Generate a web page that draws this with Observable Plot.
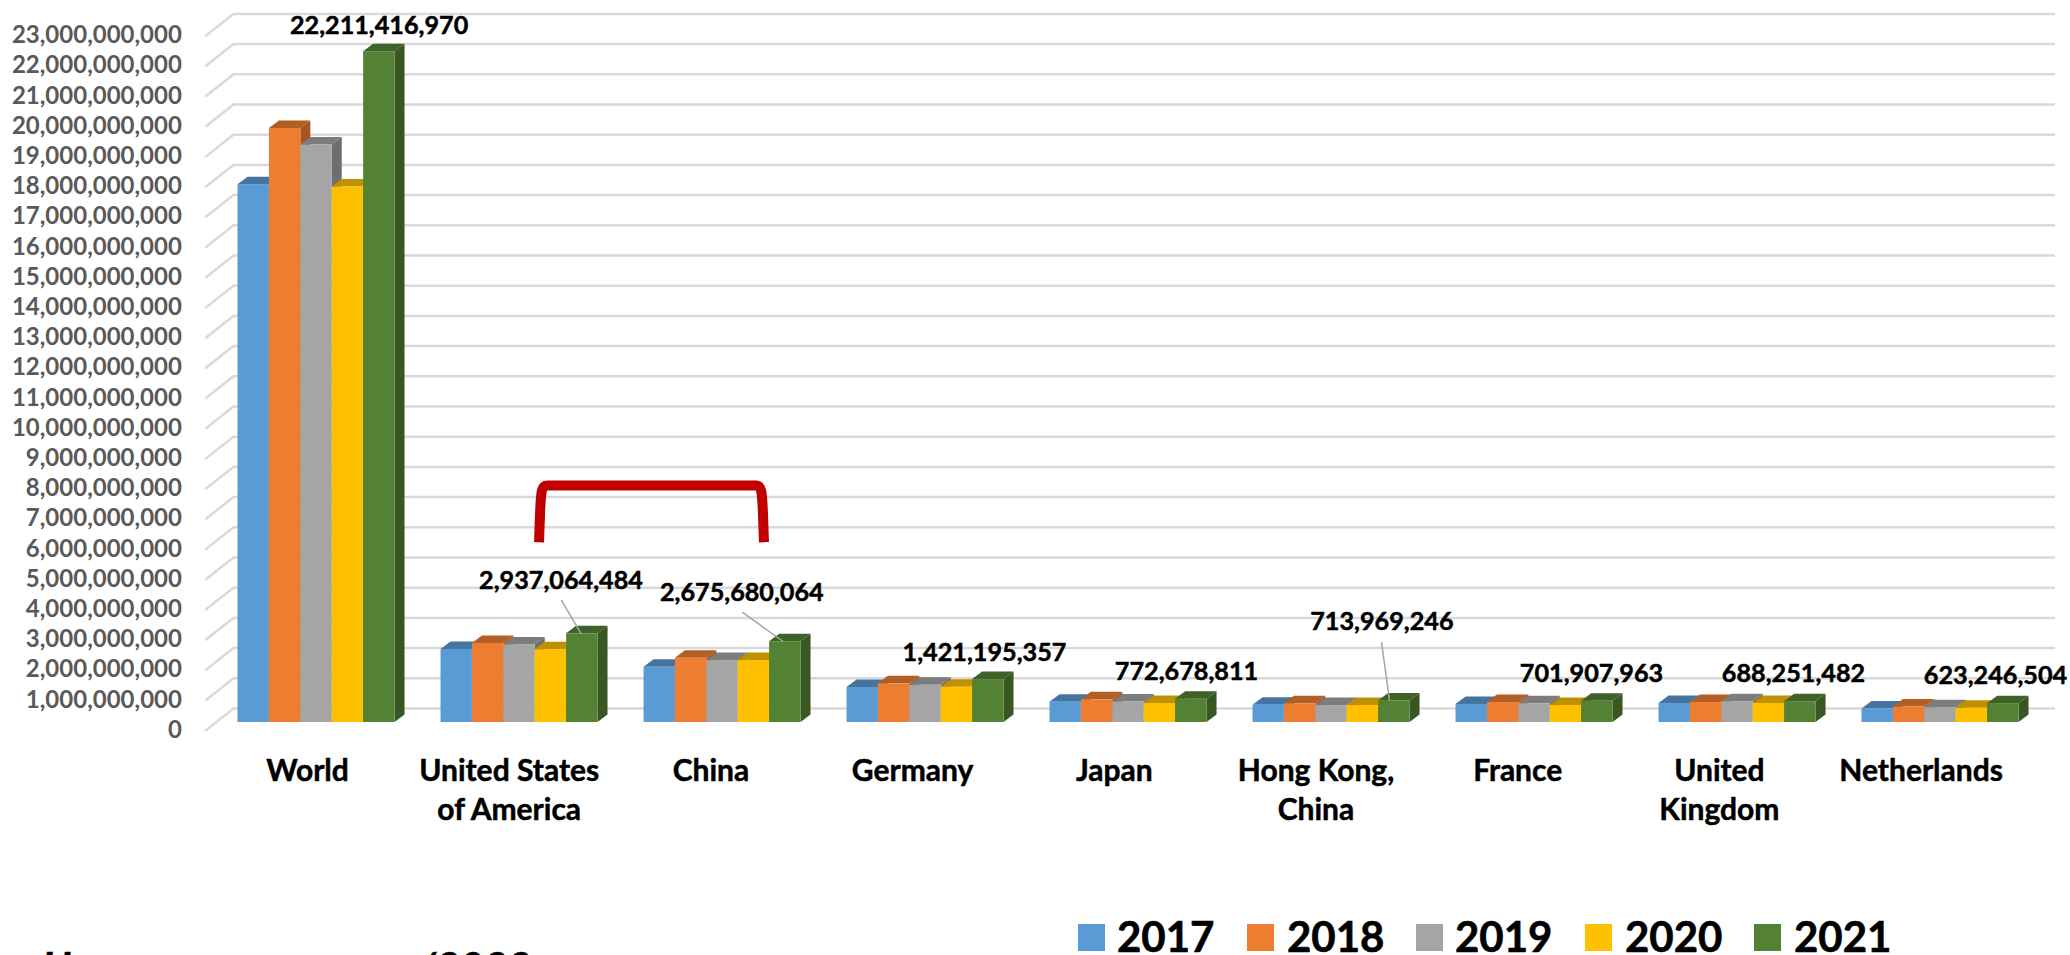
<!DOCTYPE html>
<html>
<head>
<meta charset="utf-8">
<script src="https://cdn.jsdelivr.net/npm/d3@7"></script>
<script src="https://cdn.jsdelivr.net/npm/@observablehq/plot@0.6"></script>
<style>
  html, body { margin: 0; padding: 0; background: #fff; width: 2070px; height: 955px; overflow: hidden; position: relative; }
  svg { display: block; }
  .lg { position: absolute; font-family: Lato, sans-serif; font-weight: 700; color: #000; white-space: nowrap; -webkit-text-stroke: 0.6px #000; }
  .sw { position: absolute; width: 27px; height: 27px; }
</style>
</head>
<body>
<div id="chart"></div>
<script>
const categories = ["World", "United States\nof America", "China", "Germany", "Japan", "Hong Kong,\nChina", "France", "United\nKingdom", "Netherlands"];
const years = ["2017", "2018", "2019", "2020", "2021"];
const colors = ["#5B9BD5", "#ED7D31", "#A5A5A5", "#FFC000", "#548235"];
const topShades = ["#44749F", "#B25E25", "#7C7C7C", "#BF9000", "#3F6228"];
const sideShades = ["#3D6A93", "#A35522", "#6E6E6E", "#AF8400", "#385723"];

const v2017 = [17.81e9, 2.42e9, 1.83e9, 1.16e9, 0.67e9, 0.57e9, 0.60e9, 0.63e9, 0.45e9];
const v2018 = [19.67e9, 2.62e9, 2.13e9, 1.28e9, 0.75e9, 0.62e9, 0.66e9, 0.66e9, 0.51e9];
const v2019 = [19.12e9, 2.57e9, 2.05e9, 1.23e9, 0.68e9, 0.56e9, 0.62e9, 0.69e9, 0.49e9];
const v2020 = [17.73e9, 2.41e9, 2.05e9, 1.17e9, 0.63e9, 0.56e9, 0.56e9, 0.63e9, 0.47e9];
const v2021 = [22211416970, 2937064484, 2675680064, 1421195357, 772678811, 713969246, 701907963, 688251482, 623246504];
const series = [v2017, v2018, v2019, v2020, v2021];
const yTicks = d3.range(0, 24).map(d => d * 1e9);

// Annotation placement (page pixels), converted through the inverse of the scales below
const labelCx = [378.6, 560.5, 741.3, 984, 1186, 1381.4, 1591, 1793, 1995];
const labelCy = [25, 580, 592, 652, 671.7, 621.7, 673, 673, 675.7];
const leaders = [
  [560.7, 599.3, 580.7, 633.3],
  [741.7, 611.7, 782.7, 641],
  [1381, 641.7, 1389, 700]
];
const bracketPx = [[538.5, 541.7], [539.5, 515], [540.5, 485], [547, 485], [554, 485], [748, 485], [755, 485], [761.5, 485], [762.5, 515], [763.5, 541.7]];

// Layout
const W = 2070, H = 905;
const wallLeft = 233, wallBase = 708, wallTop = 13.4, bandPx = 203;
const xAt = px => (px - wallLeft) / bandPx;
const yAt = py => (wallBase - py) / (wallBase - wallTop) * 23e9;
const barInset = 0.111, barW = 157 / 203 / 5;
const frontDx = -18, frontDy = 14, depthDx = 10, depthDy = -7.5;
const gridEnd = xAt(2055);

const rows = categories.flatMap((c, i) => years.map((y, j) => ({
  cat: i, year: y, yi: j, value: series[j][i],
  x1: i + barInset + j * barW, x2: i + barInset + (j + 1) * barW
})));

function bars3d(index, scales, values) {
  const g = d3.create("svg:g");
  for (const i of index) {
    const x1 = values.x1[i] + frontDx, x2 = values.x2[i] + frontDx;
    const y0 = values.y1[i] + frontDy, y1 = values.y2[i] + frontDy;
    const yi = rows[i].yi;
    const pts = a => a.map(p => p.join(",")).join(" ");
    g.append("polygon").attr("fill", sideShades[yi])
      .attr("points", pts([[x2, y1], [x2 + depthDx, y1 + depthDy], [x2 + depthDx, y0 + depthDy], [x2, y0]]));
    g.append("polygon").attr("fill", topShades[yi])
      .attr("points", pts([[x1, y1], [x1 + depthDx, y1 + depthDy], [x2 + depthDx, y1 + depthDy], [x2, y1]]));
    g.append("rect").attr("fill", values.fill[i])
      .attr("x", x1).attr("y", y1).attr("width", x2 - x1).attr("height", y0 - y1);
  }
  return g.node();
}

const corner = { draw(ctx, l) { ctx.moveTo(0, 0); ctx.lineTo(0, -l); } };
const font = "Lato, sans-serif";

const plot = Plot.plot({
  width: W, height: H,
  marginLeft: wallLeft, marginRight: W - (wallLeft + 9 * bandPx), marginTop: wallTop, marginBottom: H - wallBase,
  style: { fontFamily: font, background: "transparent", overflow: "visible" },
  x: { domain: [0, 9], axis: null },
  y: { domain: [0, 23e9], axis: null },
  color: { domain: years, range: colors },
  marks: [
    Plot.ruleY(yTicks, { x1: 0, x2: gridEnd, stroke: "#D9D9D9", strokeWidth: 2.5 }),
    Plot.vector(yTicks, { x: () => 0, y: d => d, length: 35, rotate: 231.7, anchor: "start", shape: corner, stroke: "#D9D9D9", strokeWidth: 2.5 }),
    Plot.axisY({ ticks: yTicks, tickFormat: d3.format(","), tickSize: 0, tickPadding: 0, dx: -51.6, dy: 21.7, fontSize: 24, fontWeight: 700, color: "#595959", stroke: "#595959", strokeWidth: 0.5, label: null }),
    Plot.rectY(rows, { x1: "x1", x2: "x2", y1: () => 0, y2: "value", fill: "year", render: bars3d }),
    Plot.link(leaders, { x1: d => xAt(d[0]), y1: d => yAt(d[1]), x2: d => xAt(d[2]), y2: d => yAt(d[3]), stroke: "#A6A6A6", strokeWidth: 1.5 }),
    Plot.text(v2021, { x: (d, i) => xAt(labelCx[i]), y: (d, i) => yAt(labelCy[i]), text: d => d3.format(",")(d), fontSize: 25.2, fontWeight: 700, fill: "#000", stroke: "#000", strokeWidth: 0.5 }),
    Plot.text(categories, { x: (d, i) => xAt(307 + i * 201.7), y: () => yAt(753), text: d => d, lineAnchor: "top", lineHeight: 1.3, fontSize: 30, fontWeight: 700, fill: "#000", stroke: "#000", strokeWidth: 0.5 }),
    Plot.line(bracketPx, { x: d => xAt(d[0]), y: d => yAt(d[1]), curve: "basis", stroke: "#C00000", strokeWidth: 10, strokeLinecap: "butt" })
  ]
});
document.getElementById("chart").append(plot);

// Legend below the chart
const swatchX = [1078, 1247, 1416, 1585, 1754];
const textX = [1117, 1287, 1455, 1625, 1794];
years.forEach((y, i) => {
  const s = document.createElement("div");
  s.className = "sw"; s.style.left = swatchX[i] + "px"; s.style.top = "924px"; s.style.background = colors[i];
  document.body.append(s);
  const t = document.createElement("div");
  t.className = "lg"; t.textContent = y; t.style.left = textX[i] + "px"; t.style.top = "918px"; t.style.fontSize = "42px"; t.style.lineHeight = "36px";
  document.body.append(t);
});

// Source line, cut off by the bottom edge of the page
[["H", 42], ["/2022", 418]].forEach(([txt, x]) => {
  const t = document.createElement("div");
  t.className = "lg"; t.textContent = txt; t.style.left = x + "px"; t.style.top = "945px"; t.style.fontSize = "41px"; t.style.lineHeight = "41px"; t.style.fontStyle = "italic";
  document.body.append(t);
});
</script>
</body>
</html>
